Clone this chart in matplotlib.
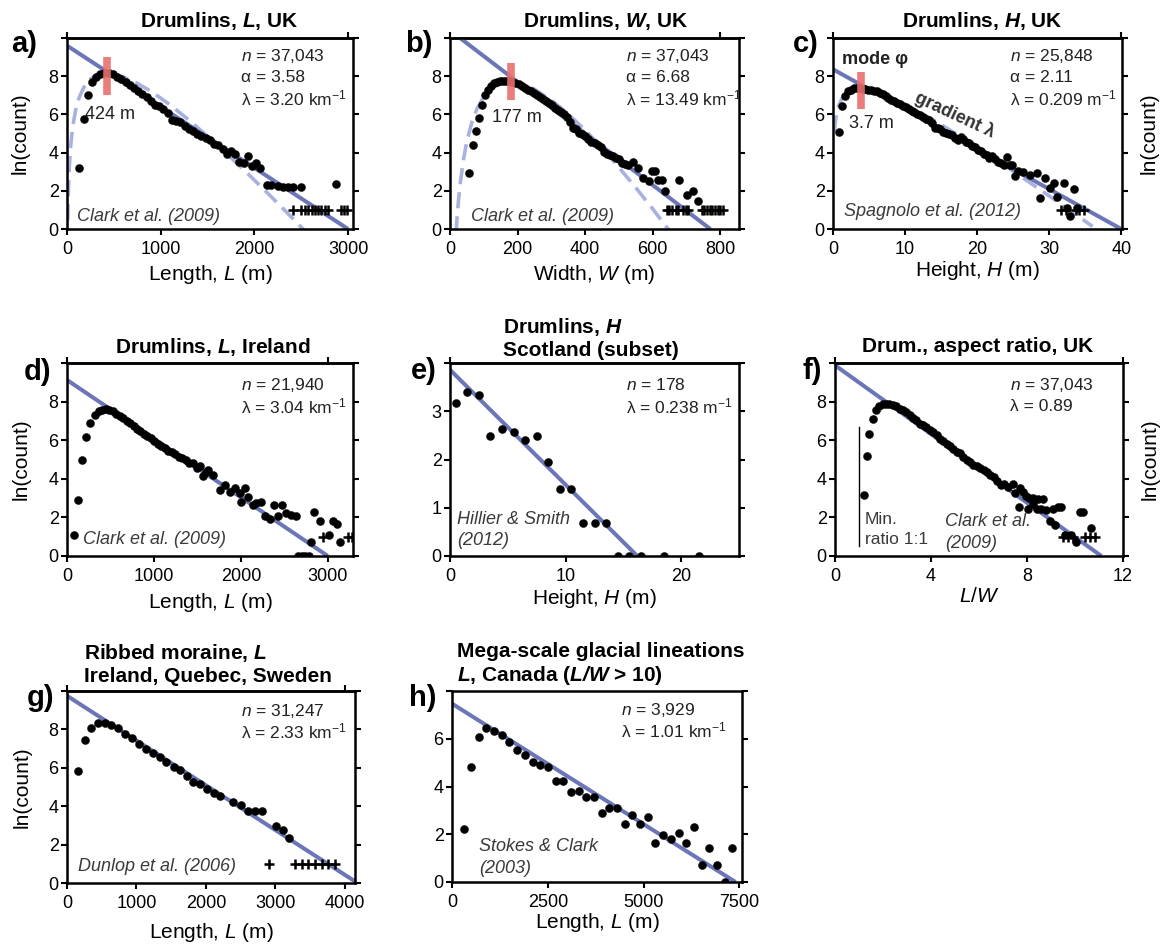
import matplotlib
matplotlib.use('Agg')
import matplotlib.pyplot as plt

plt.rcParams['font.family'] = ['Liberation Sans', 'DejaVu Sans']
plt.rcParams['mathtext.fontset'] = 'custom'
plt.rcParams['mathtext.rm'] = 'Liberation Sans'
plt.rcParams['mathtext.it'] = 'Liberation Sans:italic'
plt.rcParams['mathtext.bf'] = 'Liberation Sans:bold'
plt.rcParams['mathtext.bfit'] = 'Liberation Sans:italic:bold'
plt.rcParams['mathtext.sf'] = 'Liberation Sans'

# ---------------- data ----------------
# (a) Drumlins L, UK
a_x = [124,177,220,266,310,355,400,445,490,535,580,625,670,715,760,805,850,895,940,985,
       1030,1075,1120,1165,1210,1255,1300,1345,1390,1435,1480,1525,1570,1615,1660,1705,1750,
       1795,1840,1885,1930,1975,2020,2065,2130,2183,2254,2307,2360,2414,2503,2876]
a_y = [3.18,5.76,7.0,7.7,7.98,8.12,8.17,8.15,8.1,7.98,7.85,7.7,7.55,7.4,7.25,7.08,6.92,6.7,6.48,6.42,
       6.3,6.05,5.7,5.68,5.62,5.4,5.25,5.12,5.0,4.85,4.75,4.68,4.45,4.38,4.2,3.95,4.1,
       3.95,3.5,3.48,3.8,3.3,3.45,3.2,2.3,2.3,2.25,2.2,2.2,2.2,2.2,2.35]
a_plus_x = [2414,2503,2540,2575,2610,2645,2680,2715,2750,2790,2920,2955,2990]
a_line_x = [0, 3000]
a_line_y = [9.6, 0]
a_fit_x = [8,15,25,40,60,90,130,180,250,330,424,550,700,900,1100,1300,1500,1700,1900,2100,2300,2500,2600]
a_fit_y = [0.44,2.02,3.28,4.40,5.32,6.18,6.89,7.42,7.85,8.08,8.15,8.05,7.76,7.20,6.50,5.71,4.86,3.97,3.04,2.08,1.10,0.10,-0.41]

# (b) Drumlins W, UK
b_x = [57,67,77,86,95,104,113,122,131,140,149,158,167,176,185,194,203,212,221,230,
       239,248,257,266,275,284,293,302,311,320,329,338,347,356,365,374,383,392,401,410,
       419,428,437,446,455,464,473,482,491,500,509,518,528,543,558,573,588,598,607,617,
       627,637,677,701,721,734]
b_y = [2.92,4.4,5.15,5.8,6.5,7.0,7.3,7.5,7.62,7.7,7.75,7.76,7.76,7.74,7.7,7.65,7.58,7.5,7.4,7.3,
       7.22,7.12,7.0,6.92,6.82,6.7,6.58,6.48,6.35,6.25,6.12,6.0,5.85,5.6,5.3,5.22,5.05,5.0,4.85,4.7,
       4.55,4.5,4.4,4.3,4.05,3.95,3.88,3.82,3.7,3.65,3.45,3.4,3.36,3.53,3.18,2.66,2.49,3.05,3.05,2.57,
       2.57,1.97,2.57,1.79,1.97,1.44]
b_plus_x = [642,650,658,668,676,690,698,706,745,753,761,769,777,785,793,801,809]
b_line_x = [0, 771]
b_line_y = [10.4, 0]
b_fit_x = [18,20,25,30,40,50,65,80,100,125,150,177,210,250,300,350,400,450,500,550,600,650]
b_fit_y = [-0.18,0.36,1.46,2.34,3.65,4.60,5.60,6.30,6.93,7.39,7.63,7.70,7.61,7.32,6.75,6.02,5.18,4.24,3.23,2.17,1.06,-0.09]

# (c) Drumlins H, UK
c_x = [0.84,1.3,1.67,2.1,2.5,2.9,3.3,3.7,4.1,4.5,4.9,5.3,5.7,6.1,6.5,6.9,7.3,7.7,8.1,8.5,
       8.9,9.3,9.7,10.1,10.5,10.9,11.3,11.7,12.1,12.5,12.9,13.3,13.7,14.1,14.5,14.9,15.3,15.7,16.1,16.5,
       16.9,17.3,17.7,18.1,18.5,18.9,19.3,19.7,20.1,20.5,20.9,21.3,21.7,22.1,22.5,22.9,23.3,23.7,24.1,24.5,
       24.9,25.3,25.7,26.4,27.3,28.3,28.7,29.4,30.1,30.6,31.1,32.0,32.5,32.9,33.4,33.9]
c_y = [5.1,6.43,6.96,7.2,7.3,7.36,7.38,7.36,7.35,7.33,7.3,7.28,7.25,7.2,7.12,7.05,6.97,6.88,6.75,6.7,
       6.62,6.55,6.45,6.4,6.3,6.2,6.15,6.0,5.95,5.85,5.75,5.7,5.55,5.3,5.3,5.25,5.1,5.05,4.95,4.9,
       4.75,4.65,4.8,4.7,4.55,4.5,4.35,4.3,4.15,4.1,3.95,3.85,3.7,3.8,3.65,3.5,3.45,3.35,3.75,3.35,
       3.35,2.75,3.05,2.97,2.83,2.92,1.62,2.66,2.14,2.43,1.7,2.4,1.1,0.7,2.09,1.1]
c_plus_x = [31.6,32.3,33.7,34.2,34.8]
c_line_x = [0, 40]
c_line_y = [8.36, 0]
c_fit_x = [0.2,0.3,0.5,0.8,1.2,1.8,2.6,3.7,5,7,10,14,18,22,26,30,34,36]
c_fit_y = [5.11,5.53,6.04,6.47,6.80,7.07,7.24,7.30,7.24,7.02,6.51,5.69,4.77,3.79,2.77,1.73,0.67,0.14]

# (d) Drumlins L, Ireland
d_x = [76,126,172,218,262,317,363,405,445,485,525,565,605,645,685,725,765,805,845,885,
       925,965,1005,1045,1085,1125,1165,1205,1245,1285,1325,1365,1405,1445,1490,1530,1567,1600,1624,1681,
       1758,1815,1872,1930,1987,2006,2044,2083,2140,2178,2235,2274,2331,2377,2426,2476,2522,2579,2637,2660,
       2700,2740,2780,2809,2847,2909,3019,3057,3103,3141]
d_y = [1.11,2.9,4.97,6.19,6.89,7.3,7.51,7.58,7.6,7.57,7.5,7.38,7.25,7.15,7.02,6.9,6.73,6.6,6.48,6.33,
       6.21,6.1,5.97,5.82,5.7,5.58,5.45,5.38,5.28,5.15,5.08,4.95,4.82,4.8,4.56,4.65,4.12,4.35,4.47,4.2,
       3.43,3.69,3.34,3.51,3.25,2.82,3.51,3.08,2.64,2.73,2.82,2.07,1.91,2.64,2.09,2.64,2.21,2.12,2.07,0,
       0,0,0,0.7,2.3,1.83,1.11,1.83,1.65,0.7]
d_plus_x = [2942,3229,3279]
d_line_x = [0, 3000]
d_line_y = [9.12, 0]

# (e) Drumlins H, Scotland (subset)
e_x = [0.5,1.5,2.5,3.5,4.5,5.5,6.5,7.5,8.5,9.5,10.5,11.5,12.5,13.5,14.5,15.5,16.5,18.5,21.5]
e_y = [3.18,3.4,3.33,2.48,2.64,2.56,2.4,2.48,1.95,1.39,1.39,0.69,0.69,0.69,0,0,0,0,0]
e_line_x = [0, 16.2]
e_line_y = [3.86, 0]

# (f) Drumlins aspect ratio, UK
f_x = [1.21,1.32,1.43,1.57,1.71,1.85,1.99,2.13,2.27,2.41,2.55,2.69,2.83,2.97,3.11,3.25,3.39,3.53,3.67,3.81,
       3.95,4.09,4.23,4.37,4.51,4.65,4.79,4.93,5.07,5.21,5.35,5.49,5.63,5.77,5.91,6.05,6.19,6.33,6.47,6.61,
       6.75,6.9,7.05,7.2,7.42,7.49,7.67,7.7,7.84,7.97,8.04,8.1,8.25,8.25,8.4,8.45,8.6,8.67,8.8,8.95,
       9.1,9.18,9.29,9.43,9.57,9.85,10.03,10.19,10.33,10.65]
f_y = [3.17,5.2,6.3,7.08,7.55,7.75,7.85,7.88,7.87,7.83,7.75,7.62,7.55,7.45,7.3,7.15,7.05,6.85,6.78,6.7,
       6.55,6.45,6.25,6.05,5.95,5.8,5.7,5.55,5.4,5.35,5.15,4.95,4.85,4.7,4.65,4.55,4.45,4.35,4.2,4.1,
       3.9,3.7,3.75,3.55,3.74,3.29,2.56,3.51,3.34,3.11,2.42,2.99,3.0,2.7,2.45,2.95,2.45,2.94,2.4,1.83,
       2.45,1.6,2.56,2.56,1.08,1.08,0.7,2.26,2.26,1.43]
f_plus_x = [9.5,9.71,9.92,10.4,10.61,10.82]
f_line_x = [0, 11.1]
f_line_y = [9.88, 0]
f_minratio_x = [1.0, 1.0]
f_minratio_y = [0.5, 6.7]

# (g) Ribbed moraine L
g_x = [158,254,350,446,541,637,733,838,934,1030,1135,1236,1332,1428,1533,1629,1725,1820,1916,2012,
       2108,2204,2395,2505,2611,2707,2802,3008,3114,3200]
g_y = [5.82,7.45,8.05,8.31,8.31,8.21,8.05,7.78,7.57,7.26,7.0,6.76,6.54,6.28,6.02,5.9,5.56,5.28,5.16,4.9,
       4.7,4.51,4.22,4.08,3.73,3.73,3.73,2.98,2.75,2.36]
g_plus_x = [2913,3281,3377,3473,3569,3665,3760,3856]
g_line_x = [0, 4180]
g_line_y = [9.75, 0]

# (h) MSGL L, Canada
h_x = [305,496,696,896,1105,1305,1497,1697,1897,2106,2306,2506,2706,2897,3106,3306,3506,3706,3907,4107,
       4307,4507,4707,4907,5107,5307,5516,5716,5917,6117,6317,6517,6717,6917,7117,7309]
h_y = [2.2,4.8,6.07,6.46,6.32,6.14,5.86,5.53,5.31,5.03,4.89,4.8,4.24,4.24,3.79,3.83,3.55,3.55,2.89,3.11,
       3.11,2.42,2.82,2.42,2.72,1.62,1.96,1.8,2.07,1.62,2.31,0.72,1.41,0.72,0,1.41]
h_line_x = [0, 7400]
h_line_y = [7.47, 0]

PLUS_Y = 1.0

# mode bars
a_mode = 424
b_mode = 181
c_mode = 3.9

# ---------------- styling ----------------
BLUE = '#6b76b8'
LBLUE = '#a9b1de'
RED = '#e8706e'
TXT = '#222222'
CIT = '#3a3a3a'

FS_TICK = 13
FS_LAB = 15
FS_TITLE = 15
FS_STAT = 12.5
FS_CITE = 13
FS_PANEL = 21

W, H = 1162, 948
fig = plt.figure(figsize=(W / 100, H / 100), dpi=100)


def make_ax(l, t, r, b):
    return fig.add_axes([l / W, 1 - b / H, (r - l) / W, (b - t) / H])


def style(ax, xlim, ylim, xticks, yticks, top_ticks):
    ax.set_xlim(*xlim)
    ax.set_ylim(*ylim)
    ax.set_xticks(xticks)
    ax.set_xticklabels([str(t) for t in xticks])
    ax.set_yticks(yticks)
    ax.set_yticklabels([str(t) for t in yticks[:-1]] + [''])
    for s in ax.spines.values():
        s.set_linewidth(1.8)
    ax.tick_params(direction='out', length=4.5, width=1.5, labelsize=FS_TICK,
                   right=True, labelright=False, colors='black')
    ax.tick_params(axis='y', pad=1.5)
    ax.tick_params(axis='x', pad=4)
    if top_ticks:
        sec = ax.secondary_xaxis('top')
        sec.set_xticks(top_ticks)
        sec.set_xticklabels([])
        sec.tick_params(direction='out', length=4.5, width=1.5)
        sec.spines['top'].set_linewidth(1.8)


def dots(ax, x, y):
    ax.plot(x, y, 'o', color='black', ms=5.8, mec='black', mew=0.3, zorder=3)


def plus(ax, x):
    ax.plot(x, [PLUS_Y] * len(x), '+', color='black', ms=6.5, mew=1.8, zorder=3)


def fitline(ax, x, y):
    ax.plot(x, y, '-', color=BLUE, lw=2.9, solid_capstyle='butt', zorder=2.5)


def dashfit(ax, x, y):
    ax.plot(x, y, color=LBLUE, lw=2.6, ls=(0, (4.5, 2.2)), zorder=2)


def modebar(ax, x, y0, y1):
    ax.plot([x, x], [y0, y1], color=RED, lw=5.5, solid_capstyle='butt', alpha=0.9, zorder=4)


def stats(ax, x, ys, lines):
    for y, s in zip(ys, lines):
        ax.text(x, y, s, transform=ax.transAxes, ha='left', va='center', fontsize=FS_STAT, color=TXT)


def cite(ax, x, ys, lines, italic=True, fs=FS_CITE):
    for y, s in zip(ys, lines):
        ax.text(x, y, s, transform=ax.transAxes, ha='left', va='center', fontsize=fs,
                color=CIT, style='italic' if italic else 'normal')


def xlab(ax, s, off_px, h_px):
    ax.text(0.5, -off_px / h_px, s, transform=ax.transAxes, ha='center', va='center', fontsize=FS_LAB)


def ylab_left(ax, off_px, w_px):
    ax.text(-off_px / w_px, 0.5, 'ln(count)', transform=ax.transAxes, ha='center', va='center',
            rotation=90, fontsize=FS_LAB)


def ylab_right(ax, off_px, w_px):
    ax.text(1 + off_px / w_px, 0.5, 'ln(count)', transform=ax.transAxes, ha='center', va='center',
            rotation=90, fontsize=FS_LAB)


def title_px(x, y_base_last, s, ha='center'):
    fig.text(x / W, 1 - y_base_last / H, s, ha=ha, va='baseline', fontsize=FS_TITLE, fontweight='bold',
             ma='left', linespacing=1.2)


def plabel(x, y, s):
    fig.text(x / W, 1 - y / H, s, ha='left', va='center', fontsize=FS_PANEL, fontweight='bold')


LAM_KM = 'km$^{-1}$'
LAM_M = 'm$^{-1}$'

# ---- (a)
ax = make_ax(67, 38, 353, 229)
style(ax, (0, 3053), (0, 10), [0, 1000, 2000, 3000], [0, 2, 4, 6, 8, 10], [0, 3000])
dashfit(ax, a_fit_x, a_fit_y)
fitline(ax, a_line_x, a_line_y)
dots(ax, a_x, a_y)
plus(ax, a_plus_x)
modebar(ax, a_mode, 7.0, 9.0)
ax.text(190, 5.97, '424 m', ha='left', va='center', fontsize=13, color=TXT)
stats(ax, 0.607, [0.906, 0.794, 0.684], ['$n$ = 37,043', 'α = 3.58', 'λ = 3.20 ' + LAM_KM])
cite(ax, 0.034, [0.068], ['Clark et al. (2009)'])
xlab(ax, 'Length, $L$ (m)', 46, 191)
ylab_left(ax, 47, 286)
title_px(219, 26.7, 'Drumlins, $\\mathbfit{L}$, UK')
plabel(11, 44, 'a)')

# ---- (b)
ax = make_ax(450, 38, 739, 229)
style(ax, (0, 856), (0, 10), [0, 200, 400, 600, 800], [0, 2, 4, 6, 8, 10], [0, 800])
dashfit(ax, b_fit_x, b_fit_y)
fitline(ax, b_line_x, b_line_y)
dots(ax, b_x, b_y)
plus(ax, b_plus_x)
modebar(ax, b_mode, 6.75, 8.7)
ax.text(123, 5.85, '177 m', ha='left', va='center', fontsize=13, color=TXT)
stats(ax, 0.608, [0.906, 0.794, 0.684], ['$n$ = 37,043', 'α = 6.68', 'λ = 13.49 ' + LAM_KM])
cite(ax, 0.072, [0.064], ['Clark et al. (2009)'])
xlab(ax, 'Width, $W$ (m)', 46, 191)
title_px(606, 26.7, 'Drumlins, $\\mathbfit{W}$, UK')
plabel(405, 44, 'b)')

# ---- (c)
ax = make_ax(833, 38, 1122, 229)
style(ax, (0, 40.1), (0, 10), [0, 10, 20, 30, 40], [0, 2, 4, 6, 8, 10], [0, 40])
dashfit(ax, c_fit_x, c_fit_y)
fitline(ax, c_line_x, c_line_y)
dots(ax, c_x, c_y)
plus(ax, c_plus_x)
modebar(ax, c_mode, 6.3, 8.2)
ax.text(2.2, 5.5, '3.7 m', ha='left', va='center', fontsize=13, color=TXT)
ax.text(1.2, 8.85, 'mode φ', ha='left', va='center', fontsize=13, fontweight='bold', color=TXT)
ax.text(16.9, 5.97, 'gradient λ', ha='center', va='center', fontsize=13, fontweight='bold',
        rotation=-25, color='#333333', zorder=5)
stats(ax, 0.612, [0.906, 0.794, 0.684], ['$n$ = 25,848', 'α = 2.11', 'λ = 0.209 ' + LAM_M])
cite(ax, 0.038, [0.09], ['Spagnolo et al. (2012)'])
xlab(ax, 'Height, $H$ (m)', 42, 191)
ylab_right(ax, 27, 289)
title_px(982, 27.5, 'Drumlins, $\\mathbfit{H}$, UK')
plabel(793, 44, 'c)')

# ---- (d)
ax = make_ax(67, 363, 353, 556)
style(ax, (0, 3290), (0, 10), [0, 1000, 2000, 3000], [0, 2, 4, 6, 8, 10], [0, 3000])
fitline(ax, d_line_x, d_line_y)
dots(ax, d_x, d_y)
plus(ax, d_plus_x)
stats(ax, 0.607, [0.886, 0.775], ['$n$ = 21,940', 'λ = 3.04 ' + LAM_KM])
cite(ax, 0.055, [0.083], ['Clark et al. (2009)'])
xlab(ax, 'Length, $L$ (m)', 47, 193)
ylab_left(ax, 46, 286)
title_px(213, 353, 'Drumlins, $\\mathbfit{L}$, Ireland')
plabel(24, 372, 'd)')

# ---- (e)
ax = make_ax(450, 363, 739, 556)
style(ax, (0, 25), (0, 4), [0, 10, 20], [0, 1, 2, 3, 4], [0])
fitline(ax, e_line_x, e_line_y)
dots(ax, e_x, e_y)
stats(ax, 0.608, [0.886, 0.777], ['$n$ = 178', 'λ = 0.238 ' + LAM_M])
cite(ax, 0.025, [0.187, 0.079], ['Hillier & Smith', '(2012)'])
xlab(ax, 'Height, $H$ (m)', 42, 193)
title_px(591, 356, 'Drumlins, $\\mathbfit{H}$\nScotland (subset)', ha='center')
plabel(411, 371, 'e)')

# ---- (f)
ax = make_ax(835, 363, 1123, 556)
style(ax, (0, 12), (0, 10), [0, 4, 8, 12], [0, 2, 4, 6, 8, 10], [0, 12])
fitline(ax, f_line_x, f_line_y)
ax.plot(f_minratio_x, f_minratio_y, color='black', lw=1.0, zorder=2)
dots(ax, f_x, f_y)
plus(ax, f_plus_x)
stats(ax, 0.608, [0.886, 0.777], ['$n$ = 37,043', 'λ = 0.89'])
cite(ax, 0.382, [0.178, 0.066], ['Clark et al.', '(2009)'])
cite(ax, 0.104, [0.187, 0.087], ['Min.', 'ratio 1:1'], italic=False, fs=12.5)
xlab(ax, '$L/W$', 41, 193)
ylab_right(ax, 27, 288)
title_px(978, 351.5, 'Drum., aspect ratio, UK')
plabel(802, 371, 'f)')

# ---- (g)
ax = make_ax(67, 691, 355, 883)
style(ax, (0, 4144), (0, 10), [0, 1000, 2000, 3000, 4000], [0, 2, 4, 6, 8, 10], [0, 4000])
fitline(ax, g_line_x, g_line_y)
dots(ax, g_x, g_y)
plus(ax, g_plus_x)
stats(ax, 0.603, [0.897, 0.788], ['$n$ = 31,247', 'λ = 2.33 ' + LAM_KM])
cite(ax, 0.039, [0.085], ['Dunlop et al. (2006)'])
xlab(ax, 'Length, $L$ (m)', 49, 192)
ylab_left(ax, 45, 288)
title_px(84, 681.5, 'Ribbed moraine, $\\mathbfit{L}$\nIreland, Quebec, Sweden', ha='left')
plabel(27, 698, 'g)')

# ---- (h)
ax = make_ax(452, 691, 742, 882)
style(ax, (0, 7568), (0, 8), [0, 2500, 5000, 7500], [0, 2, 4, 6, 8], None)
fitline(ax, h_line_x, h_line_y)
dots(ax, h_x, h_y)
stats(ax, 0.582, [0.90, 0.796], ['$n$ = 3,929', 'λ = 1.01 ' + LAM_KM])
cite(ax, 0.093, [0.185, 0.072], ['Stokes & Clark', '(2003)'])
xlab(ax, 'Length, $L$ (m)', 41, 191)
title_px(457, 681, 'Mega-scale glacial lineations\n$\\mathbfit{L}$, Canada ($\\mathbfit{L/W}$ > 10)', ha='left')
plabel(409, 698, 'h)')

fig.savefig('out.png', dpi=100)
